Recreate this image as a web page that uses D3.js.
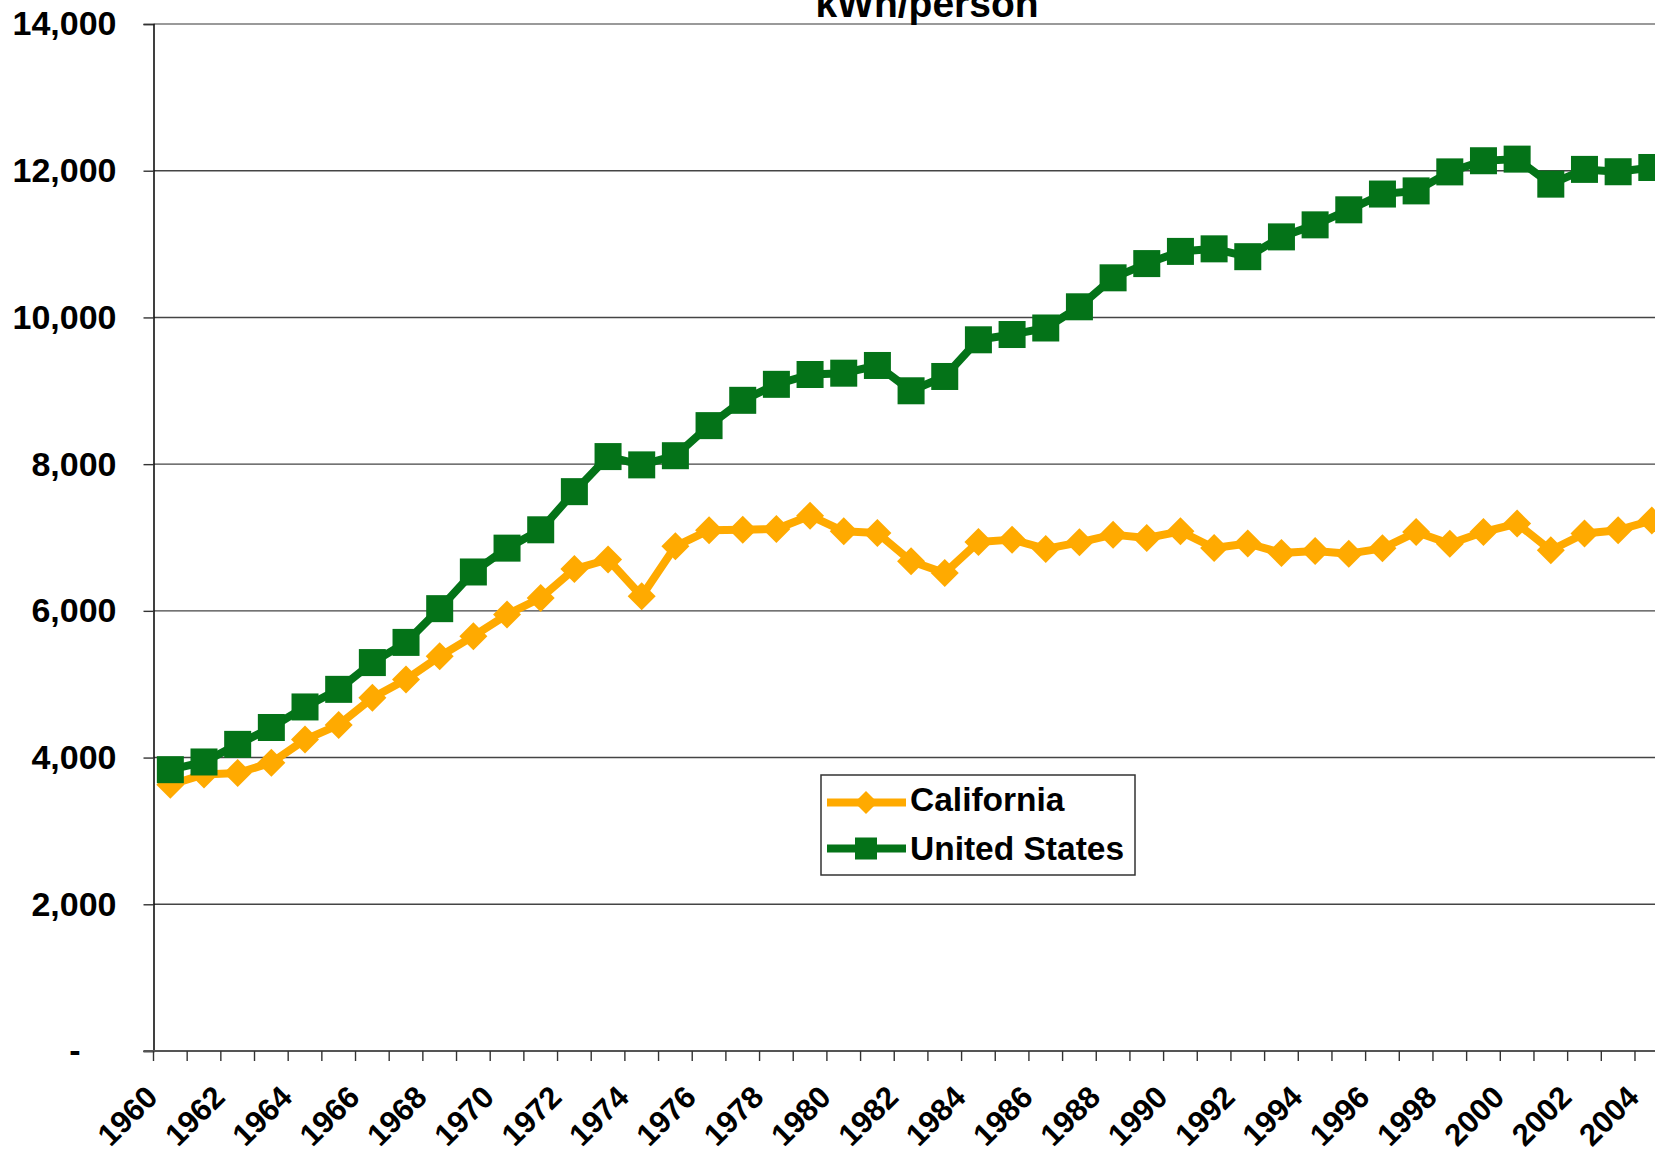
<!DOCTYPE html>
<html>
<head>
<meta charset="utf-8">
<script src="https://cdn.jsdelivr.net/npm/d3@7/dist/d3.min.js"></script>
<style>
  html, body { margin: 0; padding: 0; background: #fff; }
  svg { display: block; overflow: hidden; }
  text { font-family: "Liberation Sans", Arial, Helvetica, sans-serif; font-weight: bold; fill: #000; }
</style>
</head>
<body>
<svg id="chart" width="1655" height="1154"></svg>
<script>
const title = "kWh/person";
const years = ["1960","1961","1962","1963","1964","1965","1966","1967","1968","1969",
  "1970","1971","1972","1973","1974","1975","1976","1977","1978","1979",
  "1980","1981","1982","1983","1984","1985","1986","1987","1988","1989",
  "1990","1991","1992","1993","1994","1995","1996","1997","1998","1999",
  "2000","2001","2002","2003","2004"];
const california = [3630, 3770, 3790, 3930, 4245, 4445, 4815, 5065, 5380, 5655,
  5950, 6175, 6570, 6700, 6200, 6880, 7100, 7107, 7116, 7297,
  7084, 7061, 6676, 6517, 6939, 6971, 6844, 6934, 7039, 6993,
  7084, 6857, 6918, 6790, 6817, 6780, 6852, 7074, 6914, 7075,
  7190, 6826, 7055, 7100, 7232];
const unitedStates = [3835, 3940, 4180, 4410, 4690, 4930, 5295, 5570, 6030, 6530,
  6855, 7105, 7625, 8103, 7990, 8115, 8525, 8870, 9088, 9222,
  9240, 9345, 9000, 9195, 9695, 9767, 9856, 10145, 10540, 10734,
  10900, 10935, 10828, 11098, 11262, 11467, 11682, 11725, 11984, 12136,
  12158, 11817, 12018, 11986, 12044];
const seriesNames = ["California", "United States"];
const yTickValues = [0, 2000, 4000, 6000, 8000, 10000, 12000, 14000];
const yTickLabels = ["-", "2,000", "4,000", "6,000", "8,000", "10,000", "12,000", "14,000"];
const xTickLabels = years.filter((d, i) => i % 2 === 0);

const colors = { "California": "#FFAA00", "United States": "#047318" };

const svg = d3.select("#chart");
const left = 153.5, step = 33.67;
const x = d3.scaleBand().domain(years).range([left, left + step * years.length]).padding(0);
const y = d3.scaleLinear().domain([0, 14000]).range([1051, 24]);
const right = x.range()[1];
const bw = x.bandwidth();

// gridlines
svg.append("g").selectAll("line")
  .data(yTickValues.filter(v => v > 0))
  .join("line")
  .attr("x1", left).attr("x2", right)
  .attr("y1", d => y(d)).attr("y2", d => y(d))
  .attr("stroke", d => d === 14000 ? "#9a9a9a" : "#444")
  .attr("stroke-width", d => d === 14000 ? 2 : 1.4);

// y axis
const yAxis = svg.append("g").attr("transform", `translate(${left},0)`)
  .call(d3.axisLeft(y).tickValues(yTickValues).tickSize(10).tickPadding(27)
    .tickFormat((d, i) => yTickLabels[i]));
yAxis.select(".domain").attr("stroke", "#111").attr("stroke-width", 1.6);
yAxis.selectAll(".tick line").attr("stroke", "#333").attr("stroke-width", 1.4);
yAxis.selectAll(".tick text")
  .attr("font-size", 34).attr("font-family", null).attr("fill", "#000")
  .attr("dx", (d, i) => yTickLabels[i] === "-" ? -36 : 0);

// x axis line and ticks (at category boundaries)
const xAxisG = svg.append("g");
xAxisG.append("line")
  .attr("x1", left - 10).attr("x2", right)
  .attr("y1", y(0)).attr("y2", y(0))
  .attr("stroke", "#555").attr("stroke-width", 2.2);
xAxisG.selectAll("line.tick")
  .data(years)
  .join("line").attr("class", "tick")
  .attr("x1", d => x(d)).attr("x2", d => x(d))
  .attr("y1", y(0)).attr("y2", y(0) + 10)
  .attr("stroke", "#333").attr("stroke-width", 1.4);
xAxisG.selectAll("text")
  .data(xTickLabels)
  .join("text")
  .attr("text-anchor", "end")
  .attr("font-size", 31)
  .attr("transform", d => `translate(${x(d) + bw / 2 - 11},${y(0) + 48}) rotate(-45)`)
  .text(d => d);

// title
svg.append("text")
  .attr("x", 927).attr("y", 16.7)
  .attr("text-anchor", "middle")
  .attr("font-size", 39)
  .text(title);

// series
const line = d3.line()
  .x((d, i) => x(years[i]) + bw / 2)
  .y(d => y(d));

function diamondPath(cx, cy, r) {
  return `M${cx},${cy - r}L${cx + r},${cy}L${cx},${cy + r}L${cx - r},${cy}Z`;
}

const caG = svg.append("g");
caG.append("path").datum(california)
  .attr("d", line).attr("fill", "none")
  .attr("stroke", colors["California"]).attr("stroke-width", 8)
  .attr("stroke-linejoin", "round");
caG.selectAll("path.m").data(california).join("path").attr("class", "m")
  .attr("d", (d, i) => diamondPath(x(years[i]) + bw / 2, y(d), 14))
  .attr("fill", colors["California"]);

const usG = svg.append("g");
usG.append("path").datum(unitedStates)
  .attr("d", line).attr("fill", "none")
  .attr("stroke", colors["United States"]).attr("stroke-width", 8)
  .attr("stroke-linejoin", "round");
usG.selectAll("rect").data(unitedStates).join("rect")
  .attr("x", (d, i) => x(years[i]) + bw / 2 - 13.5)
  .attr("y", d => y(d) - 13.5)
  .attr("width", 27).attr("height", 27)
  .attr("fill", colors["United States"]);

// legend
const lg = svg.append("g");
lg.append("rect").attr("x", 821).attr("y", 775).attr("width", 314).attr("height", 100)
  .attr("fill", "#fff").attr("stroke", "#333").attr("stroke-width", 1.5);
const legendRows = [
  { name: seriesNames[0], cy: 802.5, ty: 811 },
  { name: seriesNames[1], cy: 848.5, ty: 860 }
];
legendRows.forEach(r => {
  lg.append("line").attr("x1", 827).attr("x2", 906)
    .attr("y1", r.cy).attr("y2", r.cy)
    .attr("stroke", colors[r.name]).attr("stroke-width", 8);
  if (r.name === "California") {
    lg.append("path").attr("d", diamondPath(866, r.cy, 11.5)).attr("fill", colors[r.name]);
  } else {
    lg.append("rect").attr("x", 855).attr("y", r.cy - 11).attr("width", 22).attr("height", 22)
      .attr("fill", colors[r.name]);
  }
  lg.append("text").attr("x", 910).attr("y", r.ty).attr("font-size", 33.5).text(r.name);
});
</script>
</body>
</html>
